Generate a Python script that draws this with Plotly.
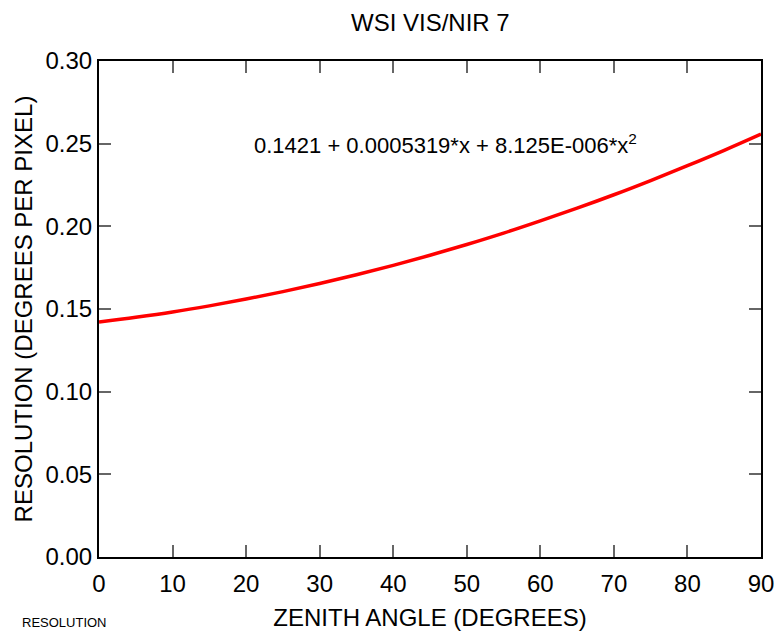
import plotly.graph_objects as go

zenith = [0, 5, 10, 15, 20, 25, 30, 35, 40, 45, 50, 55, 60, 65, 70, 75, 80, 85, 90]
resolution = [0.1421, 0.1450, 0.1482, 0.1519, 0.1560, 0.1605, 0.1654, 0.1707, 0.1764,
              0.1825, 0.1890, 0.1959, 0.2033, 0.2110, 0.2191, 0.2277, 0.2367, 0.2460, 0.2558]
x_ticks = [0, 10, 20, 30, 40, 50, 60, 70, 80, 90]
y_ticks = [0.00, 0.05, 0.10, 0.15, 0.20, 0.25, 0.30]

FONT = "Liberation Sans, Arial, sans-serif"
W, H = 774, 632
ML, MR, MT, MB = 99, 13, 61, 75
PW, PH = W - ML - MR, H - MT - MB


def px(xp, yp):
    return (xp - ML) / PW, (H - MB - yp) / PH


fig = go.Figure()
fig.add_trace(go.Scatter(x=zenith, y=resolution, mode="lines",
                         line=dict(color="#ff0000", width=3.5, shape="spline"),
                         showlegend=False))

axis_common = dict(showline=True, linecolor="black", linewidth=2, mirror="allticks",
                   ticks="inside", ticklen=12, tickwidth=1.5, tickcolor="#666666",
                   showgrid=False, zeroline=False, automargin=False,
                   tickfont=dict(family=FONT, size=24, color="black"))

tx, ty = px(430, 22)
fx, fy = px(445, 144)
rx, ry = px(20, 622)

fig.update_layout(
    width=W, height=H,
    margin=dict(l=ML, r=MR, t=MT, b=MB),
    paper_bgcolor="white", plot_bgcolor="white",
    font=dict(family=FONT, color="black"),
    xaxis=dict(range=[0, 90], tickvals=x_ticks, ticktext=[str(v) for v in x_ticks],
               ticklabeloverflow="allow", ticklabelstandoff=4,
               title=dict(text="ZENITH ANGLE (DEGREES)", font=dict(family=FONT, size=24), standoff=13),
               **axis_common),
    yaxis=dict(range=[0, 0.30], tickvals=y_ticks, ticktext=[f"{v:.2f}" for v in y_ticks],
               ticklabeloverflow="allow",
               title=dict(text="RESOLUTION (DEGREES PER PIXEL)", font=dict(family=FONT, size=24), standoff=6),
               **axis_common),
    annotations=[
        dict(text="WSI VIS/NIR 7", x=tx, y=ty, xref="paper", yref="paper", showarrow=False,
             xanchor="center", yanchor="middle", font=dict(family=FONT, size=24)),
        dict(text="0.1421 + 0.0005319*x + 8.125E-006*x<sup>2</sup>", x=fx, y=fy,
             xref="paper", yref="paper", showarrow=False, xanchor="center", yanchor="middle",
             font=dict(family=FONT, size=22)),
        dict(text="RESOLUTION", x=rx, y=ry, xref="paper", yref="paper", showarrow=False,
             xanchor="left", yanchor="middle", font=dict(family=FONT, size=13)),
    ],
)

fig.write_html("out.html")
